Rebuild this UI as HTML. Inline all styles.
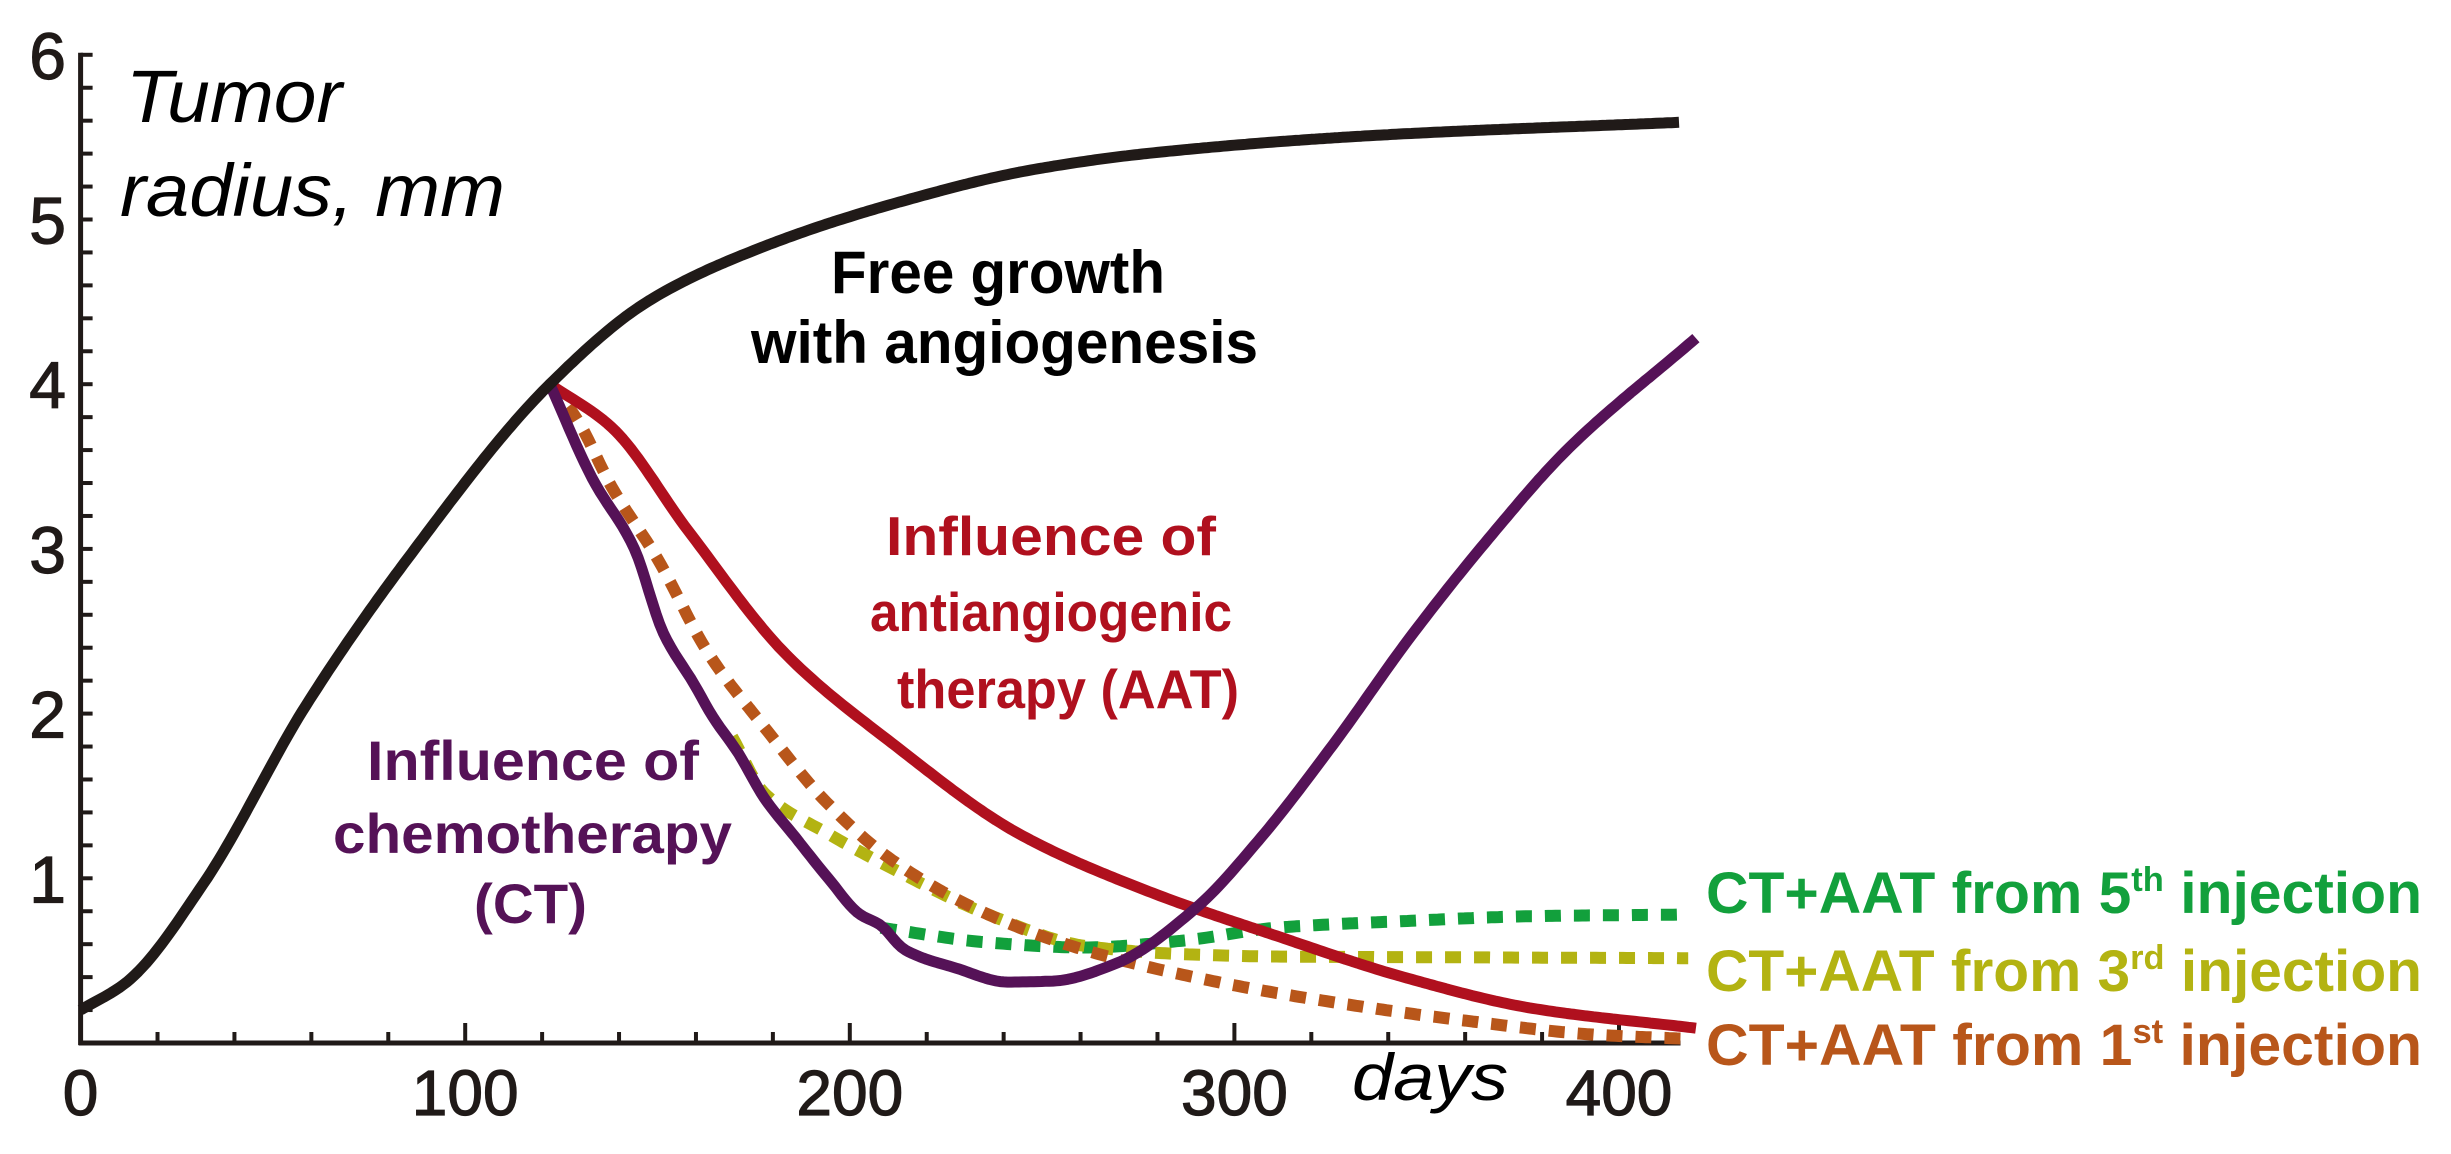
<!DOCTYPE html>
<html><head><meta charset="utf-8"><style>
html,body{margin:0;padding:0;background:#fff;}
svg{display:block;}
text{font-family:"Liberation Sans",Arial,sans-serif;}
</style></head><body>
<svg id="chart" width="2451" height="1154" viewBox="0 0 2451 1154" xmlns="http://www.w3.org/2000/svg">
<g id="axes"></g>
<g id="series"></g>
<g id="labels">
  <text x="126" y="122" font-size="74" font-style="italic" fill="#000" textLength="216" lengthAdjust="spacingAndGlyphs">Tumor</text>
  <text x="120" y="216" font-size="74" font-style="italic" fill="#000" textLength="385" lengthAdjust="spacingAndGlyphs">radius, mm</text>
  <text x="1352" y="1100" font-size="66" font-style="italic" fill="#000" textLength="156" lengthAdjust="spacingAndGlyphs">days</text>
  <text x="831" y="293" font-size="60" font-weight="bold" fill="#000" textLength="334" lengthAdjust="spacingAndGlyphs">Free growth</text>
  <text x="751" y="363" font-size="60" font-weight="bold" fill="#000" textLength="507" lengthAdjust="spacingAndGlyphs">with angiogenesis</text>
  <text x="886" y="555" font-size="55" font-weight="bold" fill="#b0101e" textLength="330" lengthAdjust="spacingAndGlyphs">Influence of</text>
  <text x="870" y="631" font-size="55" font-weight="bold" fill="#b0101e" textLength="362" lengthAdjust="spacingAndGlyphs">antiangiogenic</text>
  <text x="897" y="708" font-size="55" font-weight="bold" fill="#b0101e" textLength="342" lengthAdjust="spacingAndGlyphs">therapy (AAT)</text>
  <text x="367" y="780" font-size="56" font-weight="bold" fill="#551257" textLength="332" lengthAdjust="spacingAndGlyphs">Influence of</text>
  <text x="333" y="853" font-size="56" font-weight="bold" fill="#551257" textLength="399" lengthAdjust="spacingAndGlyphs">chemotherapy</text>
  <text x="474" y="923" font-size="56" font-weight="bold" fill="#551257" textLength="113" lengthAdjust="spacingAndGlyphs">(CT)</text>
  <text x="1706" y="913" font-size="58" font-weight="bold" fill="#12a03c" textLength="716" lengthAdjust="spacingAndGlyphs">CT+AAT from 5<tspan font-size="34" dy="-22">th</tspan><tspan dy="22"> injection</tspan></text>
  <text x="1706" y="991" font-size="58" font-weight="bold" fill="#b3b312" textLength="716" lengthAdjust="spacingAndGlyphs">CT+AAT from 3<tspan font-size="34" dy="-22">rd</tspan><tspan dy="22"> injection</tspan></text>
  <text x="1706" y="1065" font-size="58" font-weight="bold" fill="#b8561a" textLength="716" lengthAdjust="spacingAndGlyphs">CT+AAT from 1<tspan font-size="34" dy="-22">st</tspan><tspan dy="22"> injection</tspan></text>
</g>
</svg>
<script>
// ---- data (days, mm) ----
const freeDays = [0, 12, 32, 58.6, 85, 122, 148, 177, 212, 247, 277, 336, 415.6];
const freeVals = [0.2, 0.37, 0.97, 2.05, 2.94, 4.0, 4.51, 4.83, 5.10, 5.30, 5.40, 5.51, 5.59];
const ctDays = [122, 133, 144, 151.5, 159.5, 164.4, 171, 177.7, 186, 194.4, 202.7, 207.7, 214.4, 227.6, 241, 252.8, 269.4, 290, 307, 325.6, 345.9, 366, 386, 420];
const ctVals = [4.0, 3.43, 3.0, 2.49, 2.18, 1.98, 1.76, 1.49, 1.245, 1.0, 0.78, 0.72, 0.565, 0.455, 0.37, 0.376, 0.485, 0.82, 1.25, 1.81, 2.47, 3.06, 3.59, 4.28];
const aatDays = [122, 138, 158, 183.4, 211, 244, 277.7, 311, 344, 377.6, 420];
const aatVals = [4.0, 3.74, 3.11, 2.36, 1.82, 1.27, 0.92, 0.65, 0.40, 0.21, 0.09];
const inj1Days = [122, 129, 138, 150, 163.4, 177.7, 194, 211, 236, 261, 294.4, 327.7, 361, 394, 418];
const inj1Vals = [4.0, 3.79, 3.38, 2.94, 2.36, 1.92, 1.46, 1.11, 0.78, 0.565, 0.376, 0.24, 0.133, 0.05, 0.025];
const inj3Days = [169.4, 177.7, 194.4, 211, 236, 261, 286, 311, 360, 418];
const inj3Vals = [1.86, 1.52, 1.27, 1.06, 0.78, 0.59, 0.54, 0.525, 0.52, 0.515];
const inj5Days = [208, 236, 261, 286, 311, 344, 377.6, 418];
const inj5Vals = [0.70, 0.61, 0.58, 0.62, 0.70, 0.74, 0.77, 0.78];
const xTickLabels = [0, 100, 200, 300, 400];
const yTickLabels = [1, 2, 3, 4, 5, 6];

const NS = "http://www.w3.org/2000/svg";
const X0 = 80.6, PXD = 3.846, Y0 = 1043, PXM = 164.7;
function sx(d){ return X0 + d * PXD; }
function sy(v){ return Y0 - v * PXM; }

// monotone cubic (Fritsch-Carlson) interpolation, sampled densely
function smoothPath(xs, ys){
  const n = xs.length;
  const dk = [], m = [];
  for (let i=0;i<n-1;i++) dk.push((ys[i+1]-ys[i])/(xs[i+1]-xs[i]));
  m[0]=dk[0]; m[n-1]=dk[n-2];
  for (let i=1;i<n-1;i++){
    if (dk[i-1]*dk[i] <= 0) m[i]=0;
    else {
      const h0=xs[i]-xs[i-1], h1=xs[i+1]-xs[i];
      const w1=2*h1+h0, w2=h1+2*h0;
      m[i]=(w1+w2)/(w1/dk[i-1]+w2/dk[i]);
    }
  }
  let s = "M" + sx(xs[0]).toFixed(1) + "," + sy(ys[0]).toFixed(1);
  for (let i=0;i<n-1;i++){
    const h = xs[i+1]-xs[i];
    const steps = Math.max(2, Math.ceil(h));
    for (let k=1;k<=steps;k++){
      const t=k/steps, t2=t*t, t3=t2*t;
      const v = (2*t3-3*t2+1)*ys[i] + (t3-2*t2+t)*h*m[i] + (-2*t3+3*t2)*ys[i+1] + (t3-t2)*h*m[i+1];
      const d = xs[i]+t*h;
      s += " L" + sx(d).toFixed(1) + "," + sy(v).toFixed(1);
    }
  }
  return s;
}

const axes = document.getElementById("axes");
const series = document.getElementById("series");

function line(x1,y1,x2,y2,w){
  const l = document.createElementNS(NS,"line");
  l.setAttribute("x1",x1); l.setAttribute("y1",y1); l.setAttribute("x2",x2); l.setAttribute("y2",y2);
  l.setAttribute("stroke","#201a18"); l.setAttribute("stroke-width",w);
  return l;
}
const yAxis = line(X0, sy(6)-2, X0, Y0+2, 5);


axes.appendChild(yAxis);
const xAxis = line(X0-2, Y0, sx(416), Y0, 5);


axes.appendChild(xAxis);
for (let k=1;k<=30;k++){
  const v = k*0.2;
  const t = line(X0, sy(v), X0+12, sy(v), 4);
  
  
  axes.appendChild(t);
}
for (let d=20; d<=410; d+=20){
  const major = d%100===0;
  const t = line(sx(d), Y0, sx(d), Y0-(major?20:11), 4);
  
  
  axes.appendChild(t);
}
yTickLabels.forEach(v=>{
  const t = document.createElementNS(NS,"text");
  
  
  t.setAttribute("x", 66); t.setAttribute("y", sy(v)+24);
  t.setAttribute("text-anchor","end"); t.setAttribute("font-size","66"); t.setAttribute("fill","#201a18");
  t.setAttribute("stroke","#201a18"); t.setAttribute("stroke-width","1.2");
  t.textContent = v;
  axes.appendChild(t);
});
xTickLabels.forEach(d=>{
  const t = document.createElementNS(NS,"text");
  
  
  t.setAttribute("x", sx(d)); t.setAttribute("y", 1115);
  t.setAttribute("text-anchor","middle"); t.setAttribute("font-size","64"); t.setAttribute("fill","#201a18");
  t.setAttribute("stroke","#201a18"); t.setAttribute("stroke-width","1.2");
  t.textContent = d;
  axes.appendChild(t);
});

function addSeries(xs, ys, color, dashed, name){
  const p = document.createElementNS(NS,"path");
  
  
  p.setAttribute("d", smoothPath(xs, ys));
  p.setAttribute("fill","none");
  p.setAttribute("stroke", color);
  p.setAttribute("stroke-width", dashed ? 12 : 11);
  p.setAttribute("stroke-linejoin","round");
  if (dashed) p.setAttribute("stroke-dasharray","16 13");
  series.appendChild(p);
}
addSeries(inj5Days, inj5Vals, "#12a03c", true, "ct-aat-5th-line");
addSeries(inj3Days, inj3Vals, "#b3b312", true, "ct-aat-3rd-line");
addSeries(inj1Days, inj1Vals, "#b8561a", true, "ct-aat-1st-line");
addSeries(aatDays, aatVals, "#b0101e", false, "aat-line");
addSeries(ctDays, ctVals, "#551257", false, "ct-line");
addSeries(freeDays, freeVals, "#201a18", false, "free-growth-line");
</script>
</body></html>
